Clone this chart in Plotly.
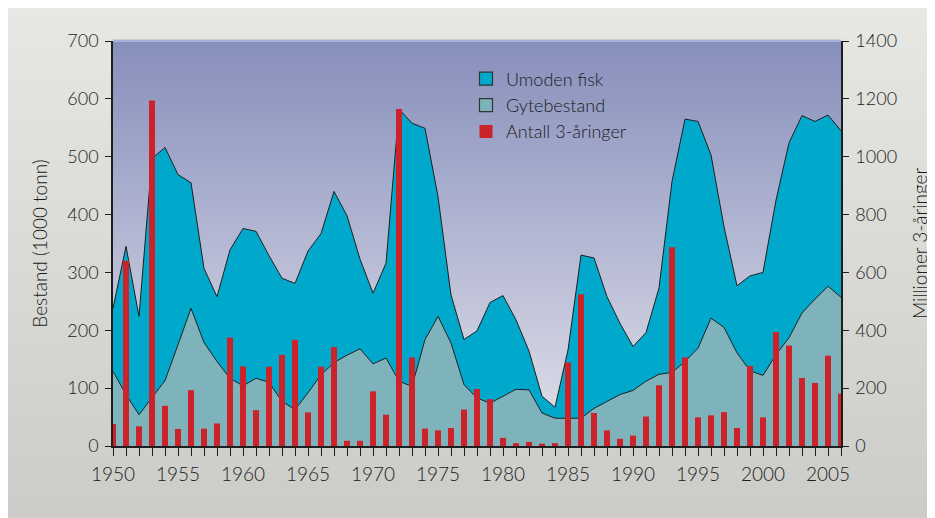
import plotly.graph_objects as go

years = list(range(1950, 2007))

# Gytebestand (1000 tonn)
gytebestand = [129, 89, 54, 83, 113, 175, 238, 179, 146, 117,
               104, 117, 110, 77, 63, 92, 123, 144, 157, 168,
               142, 152, 112, 103, 184, 224, 178, 106, 83, 74,
               86, 98, 97, 57, 48, 48, 48, 65, 77, 89,
               96, 112, 124, 127, 146, 169, 221, 205, 161, 130,
               122, 158, 187, 230, 254, 276, 257]

# Umoden fisk (1000 tonn), stacked on top of Gytebestand
umoden_fisk = [109, 256, 170, 414, 403, 294, 217, 128, 112, 222,
               272, 254, 219, 213, 218, 245, 244, 296, 241, 155,
               122, 164, 470, 455, 365, 207, 83, 78, 116, 174,
               174, 120, 67, 29, 19, 118, 282, 260, 181, 123,
               76, 84, 149, 330, 419, 392, 282, 174, 116, 164,
               178, 267, 337, 341, 307, 296, 288]

# Antall 3-åringer (millioner)
antall_3aringer = [76, 640, 68, 1194, 139, 59, 193, 60, 78, 375,
                   275, 124, 274, 315, 367, 116, 274, 342, 18, 18,
                   189, 108, 1165, 306, 60, 54, 62, 126, 197, 162,
                   28, 10, 14, 8, 10, 289, 525, 114, 54, 25,
                   36, 102, 210, 687, 306, 99, 106, 117, 62, 277,
                   99, 394, 347, 235, 218, 312, 181]

x_tickvals = list(range(1950, 2006, 5))
y_tickvals = list(range(0, 701, 100))
y2_tickvals = list(range(0, 1401, 200))

C_UMODEN = "#00a9cb"
C_GYTE = "#7fb3bb"
C_BAR = "#cc232b"
C_LINE = "#1e1e1e"
C_TEXT = "#1c1c1c"
FONT = "Lato"

W, H = 935, 518
ML, MT, PW, PH = 105, 33, 728, 405
MR, MB = W - ML - PW, H - MT - PH

fig = go.Figure()

fig.add_trace(go.Scatter(
    x=years, y=gytebestand, name="Gytebestand", stackgroup="bestand",
    mode="lines", line=dict(color=C_LINE, width=1), fillcolor=C_GYTE,
    showlegend=False))
fig.add_trace(go.Scatter(
    x=years, y=umoden_fisk, name="Umoden fisk", stackgroup="bestand",
    mode="lines", line=dict(color=C_LINE, width=1), fillcolor=C_UMODEN,
    showlegend=False))
fig.add_trace(go.Bar(
    x=years, y=antall_3aringer, name="Antall 3-åringer", yaxis="y2",
    marker=dict(color=C_BAR, line=dict(width=0)), width=0.46,
    showlegend=False))

# legend entries (square swatches)
for name, col, lw, rank in [("Umoden fisk", C_UMODEN, 1.2, 1),
                            ("Gytebestand", C_GYTE, 1.2, 2),
                            ("Antall 3-åringer", C_BAR, 0, 3)]:
    fig.add_trace(go.Scatter(
        x=[None], y=[None], mode="markers", name=name, legendrank=rank,
        legendgroup=name,
        marker=dict(symbol="square", size=13, color=col,
                    line=dict(color="#333333", width=lw))))

# gradient backgrounds
shapes = []
N = 90
def lerp(c0, c1, t):
    return "rgb(%d,%d,%d)" % tuple(round(a + (b - a) * t) for a, b in zip(c0, c1))

# whole paper
px0, px1 = -ML / PW, (W - ML) / PW
py_top, py_bot = 1 + MT / PH, -MB / PH
top_c, bot_c = (231, 231, 227), (203, 203, 199)
for i in range(N):
    t0 = i / N
    t1 = (i + 1) / N
    y1 = py_top + (py_bot - py_top) * t0
    y0 = py_top + (py_bot - py_top) * t1
    shapes.append(dict(type="rect", xref="paper", yref="paper", layer="below",
                       x0=px0, x1=px1, y0=y0, y1=y1 + 0.003,
                       fillcolor=lerp(top_c, bot_c, (t0 + t1) / 2),
                       line=dict(width=0)))

# plot-area gradient
ptop, pbot = (134, 143, 188), (226, 225, 234)
for i in range(N):
    t0 = i / N
    t1 = (i + 1) / N
    shapes.append(dict(type="rect", xref="x domain", yref="y domain", layer="below",
                       x0=0, x1=1, y0=1 - t1, y1=1 - t0 + 0.003,
                       fillcolor=lerp(ptop, pbot, (t0 + t1) / 2),
                       line=dict(width=0)))
shapes.append(dict(type="line", xref="x domain", yref="y domain", layer="below",
                   x0=0, x1=1, y0=1, y1=1, line=dict(color="#aebde6", width=1.5)))

fig.update_layout(
    width=W, height=H,
    margin=dict(l=ML, r=MR, t=MT, b=MB, autoexpand=False),
    paper_bgcolor="#dcdcd8",
    plot_bgcolor="rgba(0,0,0,0)",
    shapes=shapes,
    barmode="overlay",
    font=dict(family=FONT, size=18, color=C_TEXT, weight=300),
    showlegend=True,
    legend=dict(x=(466 - 8 - ML) / PW, y=0.952, xanchor="left", yanchor="top",
                bgcolor="rgba(0,0,0,0)", borderwidth=0,
                font=dict(family=FONT, size=18, color=C_TEXT, weight=300),
                tracegroupgap=6, traceorder="normal"),
    xaxis=dict(range=[1950, 2006], tickvals=x_tickvals, ticks="outside",
               ticklen=8, tickwidth=1, tickcolor=C_LINE,
               minor=dict(dtick=1, tick0=1950, ticks="outside", ticklen=8,
                          tickwidth=1, tickcolor=C_LINE, showgrid=False),
               showline=True, linecolor=C_LINE, linewidth=1.5,
               showgrid=False, zeroline=False, ticklabelstandoff=2,
               tickfont=dict(family=FONT, size=19, color=C_TEXT, weight=300)),
    yaxis=dict(range=[0, 700], tickvals=y_tickvals, ticks="outside",
               ticklen=6, tickwidth=1, tickcolor=C_LINE,
               showline=True, linecolor=C_LINE, linewidth=1.5,
               showgrid=False, zeroline=False, ticklabelstandoff=3,
               tickfont=dict(family=FONT, size=18, color=C_TEXT, weight=300),
               title=dict(text="Bestand (1000 tonn)",
                          font=dict(family=FONT, size=19, color=C_TEXT, weight=300),
                          standoff=15)),
    yaxis2=dict(range=[0, 1400], tickvals=y2_tickvals, overlaying="y",
                side="right", ticks="outside", ticklen=6, tickwidth=1,
                tickcolor=C_LINE, showline=True, linecolor=C_LINE,
                linewidth=1.5, showgrid=False, zeroline=False,
                ticklabelstandoff=3,
                tickfont=dict(family=FONT, size=18, color=C_TEXT, weight=300),
                title=dict(text="Millioner 3-åringer",
                           font=dict(family=FONT, size=19, color=C_TEXT, weight=300),
                           standoff=18)),
)

fig.write_html("out.html")
